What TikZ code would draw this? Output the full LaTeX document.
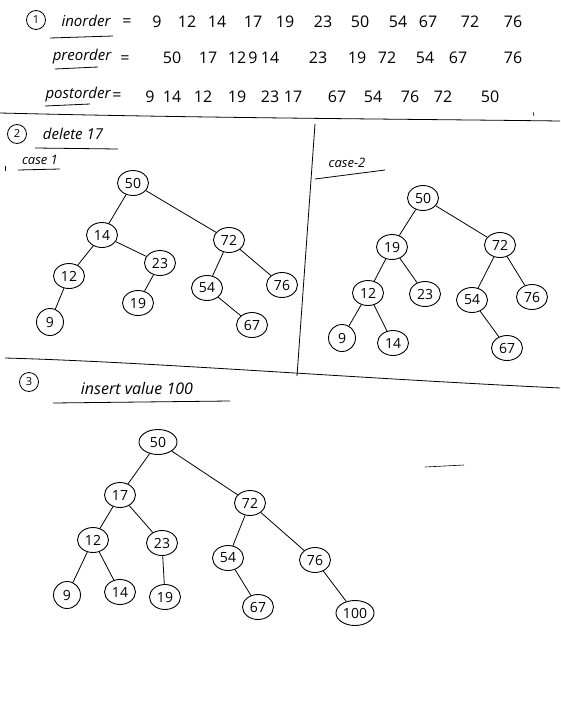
\documentclass[tikz,border=0pt]{standalone}
\usepackage{fontspec}
\setmainfont{Open Sans}
\usetikzlibrary{shapes.geometric}
\tikzset{
  bst/.style={draw, ellipse, line width=0.9pt, inner sep=1pt, minimum width=31pt, minimum height=25pt, font=\fontsize{14}{14}\selectfont},
  sm/.style={bst, minimum width=27pt, minimum height=27pt},
  wide/.style={bst, minimum width=38pt},
  edge/.style={line width=0.8pt},
  rule/.style={line width=0.8pt},
  num/.style={font=\fontsize{16}{16}\selectfont, inner sep=0},
  lbl/.style={font=\fontsize{15}{15}\selectfont\itshape, inner sep=0},
  cnum/.style={draw, circle, line width=0.8pt, minimum size=19pt, inner sep=0, font=\fontsize{11}{11}\selectfont}
}
\begin{document}
\begin{tikzpicture}[x=1pt,y=-1pt]
\useasboundingbox (0,0) rectangle (560,701);
\fill[white] (0,0) rectangle (560,701);

% ---------- part 1: traversals ----------
\node[cnum] (c1) at (36,20) {1};
\node[lbl] (tin) at (86,21) {inorder};
\node[num] (ein) at (127,23) {=};
\draw[rule] (50,38) -- (113,36);
\foreach \v/\x [count=\i] in {9/157,12/187,14/217,17/253,19/285,23/323,50/360,54/398,67/428,72/470,76/513}
  \node[num] (in\i) at (\x,22) {\v};

\node[lbl] (tpre) at (82,57) {preorder};
\node[num] (epre) at (125,60) {=};
\draw[rule] (55,69) -- (98,67);
\foreach \v/\x [count=\i] in {50/172,17/208,12/237,9/253,14/270,23/318,19/357,72/387,54/425,67/458,76/513}
  \node[num] (pre\i) at (\x,58) {\v};

\node[lbl] (tpost) at (78,95) {postorder};
\node[num] (epost) at (117,97) {=};
\draw[rule] (45,106) -- (90,104);
\foreach \v/\x [count=\i] in {9/150,14/172,12/203,19/237,23/270,17/293,67/337,54/373,76/410,72/443,50/490}
  \node[num] (post\i) at (\x,97) {\v};

% separators
\draw[rule] (0,113) .. controls (200,118) and (400,119) .. (560,121);
\draw[rule] (315,124) -- (297,376);
\draw[rule] (5,358) .. controls (150,362) and (350,378) .. (560,388);
\draw[line width=0.6pt] (533,112) -- (534,116);

% ---------- part 2: delete 17 ----------
\node[cnum] (c2) at (17,134) {2};
\node[lbl] (tdel) at (73,134) {delete 17};
\draw[rule] (35,148) -- (118,149);
\node[lbl, font=\fontsize{13}{13}\selectfont\itshape] (tc1) at (40,160) {case 1};
\draw[rule] (18,170) -- (60,169);
\draw[line width=0.6pt] (5,166) -- (5,171);
\node[lbl, font=\fontsize{13}{13}\selectfont\itshape] (tc2) at (347,163) {case-2};
\draw[rule] (315,179) -- (385,170);

% case 1 tree
\node[bst] (a50) at (133,183) {50};
\node[bst] (a14) at (102,235) {14};
\node[bst] (a72) at (229,240) {72};
\node[bst] (a12) at (69,276) {12};
\node[bst] (a23) at (160,263) {23};
\node[bst] (a54) at (207,288) {54};
\node[bst] (a76) at (282,285) {76};
\node[sm]  (a9)  at (50,322) {9};
\node[bst] (a19) at (138,303) {19};
\node[bst] (a67) at (252,325) {67};
\draw[edge] (a50) -- (a14);
\draw[edge] (a50) -- (a72);
\draw[edge] (a14) -- (a12);
\draw[edge] (a14) -- (a23);
\draw[edge] (a12) -- (a9);
\draw[edge] (a23) -- (a19);
\draw[edge] (a72) -- (a54);
\draw[edge] (a72) -- (a76);
\draw[edge] (a54) -- (a67);

% case 2 tree
\node[bst] (b50) at (423,198) {50};
\node[bst] (b19) at (392,247) {19};
\node[bst] (b72) at (500,245) {72};
\node[bst] (b12) at (368,293) {12};
\node[bst] (b23) at (425,294) {23};
\node[bst] (b54) at (472,300) {54};
\node[bst] (b76) at (532,297) {76};
\node[sm]  (b9)  at (342,338) {9};
\node[bst] (b14) at (393,343) {14};
\node[bst] (b67) at (507,348) {67};
\draw[edge] (b50) -- (b19);
\draw[edge] (b50) -- (b72);
\draw[edge] (b19) -- (b12);
\draw[edge] (b19) -- (b23);
\draw[edge] (b12) -- (b9);
\draw[edge] (b12) -- (b14);
\draw[edge] (b72) -- (b54);
\draw[edge] (b72) -- (b76);
\draw[edge] (b54) -- (b67);

% ---------- part 3: insert 100 ----------
\node[cnum] (c3) at (29,382) {3};
\node[lbl, font=\fontsize{16}{16}\selectfont\itshape] (tins) at (137,388) {insert value 100};
\draw[rule] (53,403) -- (230,401);
\draw[line width=0.6pt] (425,467) -- (464,465);

\node[wide] (d50) at (158,442) {50};
\node[bst] (d17) at (120,495) {17};
\node[bst] (d72) at (250,503) {72};
\node[bst] (d12) at (93,540) {12};
\node[bst] (d23) at (162,543) {23};
\node[bst] (d54) at (228,558) {54};
\node[bst] (d76) at (315,560) {76};
\node[sm]  (d9)  at (67,595) {9};
\node[bst] (d14) at (120,592) {14};
\node[bst] (d19) at (165,597) {19};
\node[bst] (d67) at (258,607) {67};
\node[wide] (d100) at (355,613) {100};
\draw[edge] (d50) -- (d17);
\draw[edge] (d50) -- (d72);
\draw[edge] (d17) -- (d12);
\draw[edge] (d17) -- (d23);
\draw[edge] (d12) -- (d9);
\draw[edge] (d12) -- (d14);
\draw[edge] (d23) -- (d19);
\draw[edge] (d72) -- (d54);
\draw[edge] (d72) -- (d76);
\draw[edge] (d54) -- (d67);
\draw[edge] (d76) -- (d100);
\end{tikzpicture}
\end{document}
